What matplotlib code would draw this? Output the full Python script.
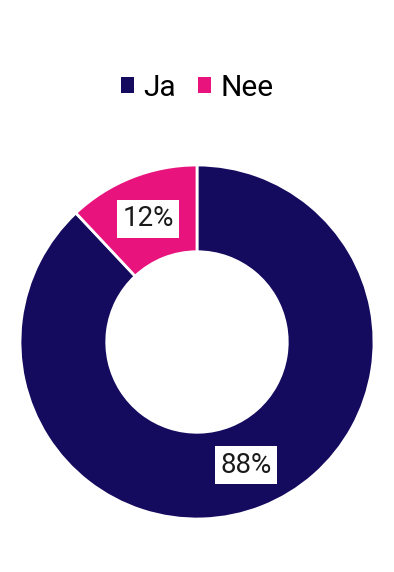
import numpy as np
import matplotlib.pyplot as plt
from matplotlib.patches import Patch

labels = ['Ja', 'Nee']
values = [88, 12]
colors = ['#140A5E', '#E8137D']

plt.rcParams['font.family'] = ['Roboto', 'DejaVu Sans']

fig = plt.figure(figsize=(3.94, 5.72), dpi=100)
ax = fig.add_axes([20 / 394, (572 - 342 - 177) / 572, 354 / 394, 354 / 572])

wedges, texts = ax.pie(values, colors=colors, startangle=90, counterclock=False,
                       radius=1, wedgeprops=dict(width=0.49, edgecolor='white', linewidth=2))

# percentage labels in white boxes, halfway across the ring
for w, v in zip(wedges, values):
    ang = np.deg2rad((w.theta1 + w.theta2) / 2)
    r = 0.75
    ax.text(r * np.cos(ang), r * np.sin(ang), f'{v}%', ha='center', va='center',
            fontsize=20, color='#1a1a1a',
            bbox=dict(boxstyle='square,pad=0.2', facecolor='white', edgecolor='none'))

ax.set_xlim(-1, 1)
ax.set_ylim(-1, 1)
ax.set_aspect('equal')
ax.axis('off')

handles = [Patch(facecolor=c, edgecolor='none') for c in colors]
fig.legend(handles, labels, loc='center', bbox_to_anchor=(0.5, 1 - 88 / 572), ncol=2,
           frameon=False, fontsize=21.5, handlelength=0.44, handleheight=0.44,
           handletextpad=0.3, columnspacing=0.75)

fig.savefig('out.png', dpi=100)
